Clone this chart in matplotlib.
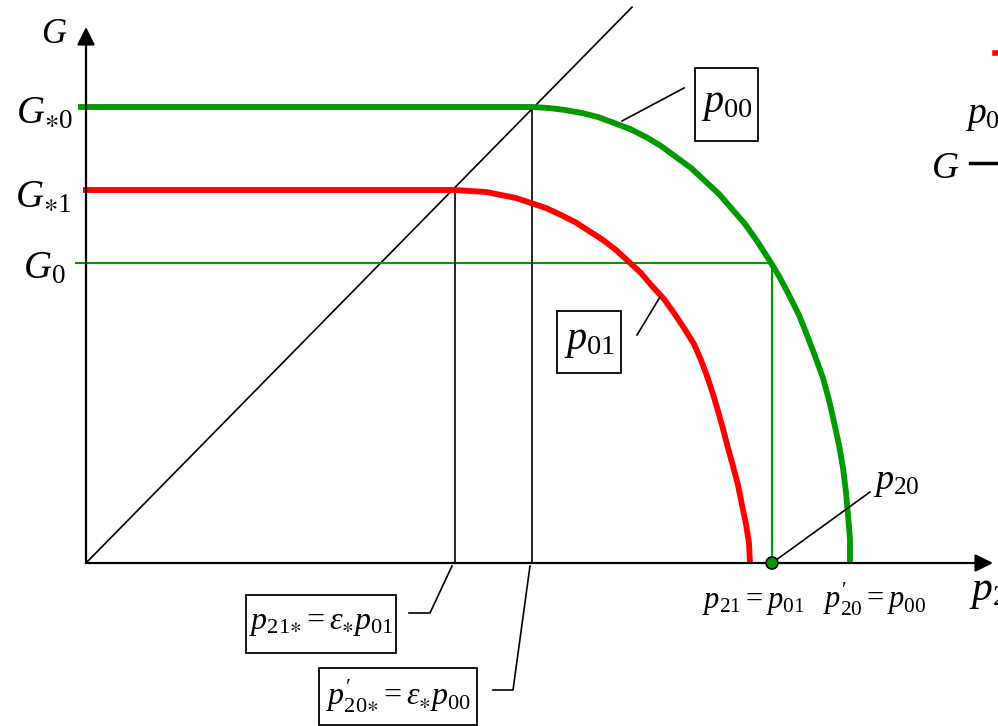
import matplotlib
matplotlib.use("Agg")
import matplotlib.pyplot as plt
from matplotlib.patches import Rectangle, Circle

plt.rcParams["mathtext.fontset"] = "custom"
plt.rcParams["mathtext.rm"] = "Liberation Serif"
plt.rcParams["mathtext.it"] = "Liberation Serif:italic"
plt.rcParams["mathtext.bf"] = "Liberation Serif:bold"
plt.rcParams["mathtext.fallback"] = "stix"
plt.rcParams["font.family"] = ["Liberation Serif", "DejaVu Serif"]

# Characteristic levels
g_star0 = 456
g_star1 = 373
g_0 = 300

# Operating characteristic for p_00 (green)
green_p = [0, 446, 463, 479, 496, 512, 528, 544, 560, 575, 590, 605, 619,
           633, 646, 659, 671, 682, 693, 703, 713, 721, 729, 737, 743, 748,
           753, 757, 760, 762, 764, 764]
green_g = [456, 456, 455, 453, 450, 446, 440, 434, 426, 417, 406, 395, 382,
           369, 354, 339, 322, 305, 287, 268, 248, 228, 207, 185, 163, 141,
           118, 95, 71, 48, 24, 0]

# Operating characteristic for p_01 (red)
red_p = [0, 369, 384, 400, 415, 430, 445, 460, 475, 489, 503, 517, 530,
         542, 555, 566, 578, 588, 598, 608, 615, 621, 627, 632, 637, 642,
         647, 652, 656, 660, 663, 664]
red_g = [373, 373, 372, 371, 368, 365, 360, 355, 348, 341, 332, 323, 313,
         302, 290, 277, 264, 250, 235, 219, 203, 187, 169, 152, 134, 115,
         97, 78, 58, 39, 20, 0]

# Ray G = k * p and the characteristic points on the p axis
ray_k = 1.018
ray_end = 546
p21_star = 369
p20_star = 446
p20 = 686

W, H = 998, 726
X0, Y0 = 86, 563  # pixel position of the origin

fig = plt.figure(figsize=(W / 100, H / 100), dpi=100)
ax = fig.add_axes([0, 0, 1, 1])
ax.set_xlim(-X0, W - X0)
ax.set_ylim(Y0 - H, Y0)
ax.axis("off")


def P(px, py):
    """Pixel position -> data coordinates."""
    return px - X0, Y0 - py


GREEN = "#009900"
RED = "#ff0000"
ax_lw = 1.6

# axes with arrows
ax.annotate("", xy=(907, 0), xytext=(0, 0),
            arrowprops=dict(arrowstyle="-|>", mutation_scale=27, lw=ax_lw,
                            color="black", shrinkA=0, shrinkB=0))
ax.annotate("", xy=(0, 536), xytext=(0, 0),
            arrowprops=dict(arrowstyle="-|>", mutation_scale=27, lw=ax_lw,
                            color="black", shrinkA=0, shrinkB=0))

# ray through the plateau corners
ax.plot([0, ray_end], [0, ray_k * ray_end], color="black", lw=1.2)

# guide lines for G_0
ax.plot([-10, p20, p20], [g_0, g_0, 0], color=GREEN, lw=1.5)

# verticals from the plateau corners to the p axis
ax.plot([p21_star, p21_star], [0, g_star1], color="black", lw=1.2)
ax.plot([p20_star, p20_star], [0, g_star0], color="black", lw=1.2)

# characteristics
ax.plot([-8] + green_p, [g_star0] + green_g, color=GREEN, lw=4.2,
        solid_capstyle="butt", solid_joinstyle="round")
ax.plot([-3] + red_p, [g_star1] + red_g, color=RED, lw=4.2,
        solid_capstyle="butt", solid_joinstyle="round")

# leader lines
ax.plot(*zip(P(452, 566), P(430, 613), P(409, 613)), color="black", lw=1.2)
ax.plot(*zip(P(530, 566), P(513, 690), P(493, 690)), color="black", lw=1.2)
ax.plot(*zip(P(622, 121), P(684, 88)), color="black", lw=1.2)
ax.plot(*zip(P(660, 297), P(637, 335)), color="black", lw=1.2)
ax.plot([p20, 784], [0, 71], color="black", lw=1.2, zorder=4)

# point p_20
ax.add_patch(Circle((p20, 0), 6, fc=GREEN, ec="black", lw=1.2, zorder=5))


def boxed(px0, py0, px1, py1, text, size):
    x0, y1 = P(px0, py0)
    x1, y0 = P(px1, py1)
    ax.add_patch(Rectangle((x0, y0), x1 - x0, y1 - y0, fc="white",
                           ec="black", lw=1.3, zorder=6))
    ax.text((x0 + x1) / 2, (y0 + y1) / 2, text, fontsize=size,
            ha="center", va="center", zorder=7)


boxed(695, 68, 758, 141, r"$p_{00}$", 29)
boxed(557, 311, 621, 373, r"$p_{01}$", 29)
boxed(246, 595, 396, 653,
      r"$p_{21{\ast}} = \varepsilon_{\ast}p_{01}$", 23)
boxed(319, 668, 477, 725,
      r"$p^{\prime}_{20{\ast}} = \varepsilon_{\ast}p_{00}$", 23)


def label(px, py, text, size, ha="left"):
    x, y = P(px, py)
    ax.text(x, y, text, fontsize=size, ha=ha, va="baseline")


label(41, 43, r"$G$", 25)
label(16, 123, r"$G_{\ast0}$", 28)
label(15, 207, r"$G_{\ast1}$", 28)
label(23, 278, r"$G_0$", 28)
label(873, 489, r"$p_{20}$", 26)
label(702, 608, r"$p_{21} = p_{01}$", 22)
label(823, 608, r"$p^{\prime}_{20} = p_{00}$", 22)
label(969, 600, r"$p_{2}$", 30)

# neighbouring panel at the right edge
label(965, 123, r"$p_{0}$", 27)
label(931, 178, r"$G$", 27)
ax.plot(*zip(P(970, 163), P(1000, 163)), color="black", lw=2.5)
ax.plot(*zip(P(995, 53), P(1000, 53)), color=RED, lw=4)

fig.savefig("out.png", dpi=100)
